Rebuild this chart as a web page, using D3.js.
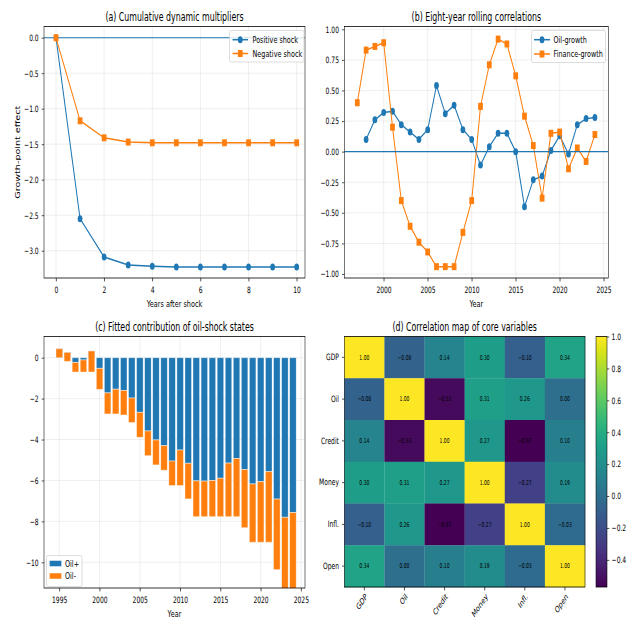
<!DOCTYPE html>
<html><head><meta charset="utf-8">
<script src="https://cdn.jsdelivr.net/npm/d3@7"></script>
<style>
body{margin:0;background:#fff;overflow:hidden}
svg{display:block}
text{font-family:"DejaVu Sans",sans-serif;fill:#000}
</style></head>
<body><div id="chart"></div>
<script>
// ---------------- data ----------------
const horizons = [0,1,2,3,4,5,6,7,8,9,10];
const positiveShock = [0,-2.55,-3.09,-3.20,-3.22,-3.23,-3.23,-3.23,-3.23,-3.23,-3.23];
const negativeShock = [0,-1.17,-1.41,-1.47,-1.48,-1.48,-1.48,-1.48,-1.48,-1.48,-1.48];

const oilYears = [1998,1999,2000,2001,2002,2003,2004,2005,2006,2007,2008,2009,2010,2011,2012,2013,2014,2015,2016,2017,2018,2019,2020,2021,2022,2023,2024];
const oilGrowth = [0.10,0.26,0.32,0.33,0.22,0.16,0.10,0.18,0.54,0.31,0.38,0.18,0.10,-0.11,0.04,0.15,0.15,0.00,-0.45,-0.23,-0.20,0.01,0.13,-0.02,0.22,0.27,0.28];
const finYears = [1997,1998,1999,2000,2001,2002,2003,2004,2005,2006,2007,2008,2009,2010,2011,2012,2013,2014,2015,2016,2017,2018,2019,2020,2021,2022,2023,2024];
const financeGrowth = [0.40,0.83,0.86,0.89,0.20,-0.40,-0.61,-0.74,-0.82,-0.94,-0.94,-0.94,-0.66,-0.40,0.37,0.71,0.92,0.88,0.62,0.29,0.05,-0.38,0.15,0.16,-0.14,0.03,-0.08,0.14];

const barYears = [1995,1996,1997,1998,1999,2000,2001,2002,2003,2004,2005,2006,2007,2008,2009,2010,2011,2012,2013,2014,2015,2016,2017,2018,2019,2020,2021,2022,2023,2024];
const oilPlus = [0.44,0.26,-0.23,-0.11,0.33,-0.52,-1.72,-1.54,-1.60,-1.97,-2.67,-3.58,-4.02,-4.30,-5.05,-4.51,-5.16,-6.02,-6.03,-6.00,-5.89,-5.15,-4.93,-5.47,-6.17,-6.06,-5.57,-6.91,-7.80,-7.57];
const oilMinus = [-0.44,-0.44,-0.47,-0.59,-1.03,-1.03,-1.03,-1.21,-1.20,-1.20,-1.22,-1.21,-1.22,-1.20,-1.20,-1.74,-1.74,-1.75,-1.74,-1.77,-1.88,-2.62,-2.84,-2.84,-2.85,-2.96,-3.45,-3.45,-3.90,-4.10];

const corrVars = ["GDP","Oil","Credit","Money","Infl.","Open"];
const corrRows = [
  [1.00,-0.08,0.14,0.30,-0.10,0.34],
  [-0.08,1.00,-0.53,0.31,0.26,0.00],
  [0.14,-0.53,1.00,0.27,-0.57,0.10],
  [0.30,0.31,0.27,1.00,-0.27,0.19],
  [-0.10,0.26,-0.57,-0.27,1.00,-0.03],
  [0.34,0.00,0.10,0.19,-0.03,1.00]
];

const aTicksX = [0,2,4,6,8,10];
const aTicksY = [0,-0.5,-1,-1.5,-2,-2.5,-3];
const bTicksX = [2000,2005,2010,2015,2020,2025];
const bTicksY = [1,0.75,0.5,0.25,0,-0.25,-0.5,-0.75,-1];
const cTicksX = [1995,2000,2005,2010,2015,2020,2025];
const cTicksY = [0,-2,-4,-6,-8,-10];
const cbTicks = [-0.4,-0.2,0,0.2,0.4,0.6,0.8,1.0];

// ---------------- setup ----------------
const S = 0.68, W = 631, H = 624, VW = W / S;
const X = px => px / S;
const C0 = "#1f77b4", C1 = "#ff7f0e";
const FT = 8.8, FL = 9.6, FTI = 11.55, FLEG = 9.5;

const svg = d3.select("#chart").append("svg")
  .attr("width", W).attr("height", H)
  .attr("viewBox", `0 0 ${VW} ${H}`)
  .attr("preserveAspectRatio", "none");
const defs = svg.append("defs");

function panel(o) {
  const g = svg.append("g");
  const l = X(o.left), r = X(o.right);
  const grid = g.append("g").attr("stroke", "#b0b0b0").attr("stroke-opacity", 0.3).attr("stroke-width", 0.8);
  o.xticks.forEach(t => grid.append("line").attr("x1", o.xs(t)).attr("x2", o.xs(t)).attr("y1", o.top).attr("y2", o.bottom));
  o.yticks.forEach(t => grid.append("line").attr("x1", l).attr("x2", r).attr("y1", o.ys(t)).attr("y2", o.ys(t)));
  const id = "clip" + Math.random().toString(36).slice(2);
  defs.append("clipPath").attr("id", id).append("rect").attr("x", l).attr("y", o.top).attr("width", r - l).attr("height", o.bottom - o.top);
  const plot = g.append("g").attr("clip-path", `url(#${id})`);
  const ax = g.append("g");
  const xa = ax.append("g").attr("transform", `translate(0,${o.bottom})`)
    .call(d3.axisBottom(o.xs).tickValues(o.xticks).tickFormat(o.xfmt).tickSize(3.4).tickPadding(5.5));
  const ya = ax.append("g").attr("transform", `translate(${l},0)`)
    .call(d3.axisLeft(o.ys).tickValues(o.yticks).tickFormat(o.yfmt).tickSize(3.4).tickPadding(4.5));
  [xa, ya].forEach(a => {
    a.select(".domain").remove();
    a.selectAll("line").attr("stroke", "#000").attr("stroke-width", 0.8);
    a.selectAll("text").attr("font-size", FT).attr("font-family", "DejaVu Sans").attr("fill", "#000");
  });
  g.append("rect").attr("x", l).attr("y", o.top).attr("width", r - l).attr("height", o.bottom - o.top)
    .attr("fill", "none").attr("stroke", "#000").attr("stroke-width", 0.8);
  g.append("text").attr("x", (l + r) / 2).attr("y", o.top - 5.5).attr("text-anchor", "middle").attr("font-size", FTI).text(o.title);
  if (o.xlabel) g.append("text").attr("x", (l + r) / 2).attr("y", o.xlabelY).attr("text-anchor", "middle").attr("font-size", FL).text(o.xlabel);
  if (o.ylabel) g.append("text").attr("transform", `translate(${X(o.ylabelX)},${(o.top + o.bottom) / 2}) rotate(-90)`)
    .attr("text-anchor", "middle").attr("font-size", FL).text(o.ylabel);
  return {g, plot, l, r};
}

function marker(sel, type, x, y, color) {
  if (type === "o") sel.append("circle").attr("cx", x).attr("cy", y).attr("r", 3.5).attr("fill", color);
  else sel.append("rect").attr("x", x - 3.5).attr("y", y - 3.5).attr("width", 7.0).attr("height", 7.0).attr("fill", color);
}

function series(plot, xs, ys, xv, yv, color, type) {
  const line = d3.line().x((d, i) => xs(xv[i])).y(d => ys(d));
  plot.append("path").datum(yv).attr("d", line).attr("fill", "none").attr("stroke", color).attr("stroke-width", 1.5);
  yv.forEach((v, i) => marker(plot, type, xs(xv[i]), ys(v), color));
}

function lineLegend(box, rows) {
  const g = svg.append("g");
  g.append("rect").attr("x", X(box.x0)).attr("y", box.y0).attr("width", X(box.x1) - X(box.x0)).attr("height", box.y1 - box.y0)
    .attr("rx", 2).attr("fill", "#fff").attr("fill-opacity", 0.8).attr("stroke", "#cccccc").attr("stroke-width", 0.8);
  rows.forEach((rw, i) => {
    const y = box.rowY[i];
    g.append("line").attr("x1", X(box.h0)).attr("x2", X(box.h1)).attr("y1", y).attr("y2", y).attr("stroke", rw.color).attr("stroke-width", 1.5);
    marker(g, rw.type, (X(box.h0) + X(box.h1)) / 2, y, rw.color);
    g.append("text").attr("x", X(box.tx)).attr("y", y).attr("dy", "0.35em").attr("font-size", FLEG).text(rw.label);
  });
}

// ---------------- (a) ----------------
{
  const xs = d3.scaleLinear().domain([0, 10]).range([X(56), X(296.7)]);
  const ys = d3.scaleLinear().domain([0, -3]).range([37.7, 250.7]);
  const p = panel({left: 44, right: 305, top: 26.5, bottom: 278, xs, ys, xticks: aTicksX, yticks: aTicksY,
    xfmt: d3.format("d"), yfmt: d3.format(".1f"), title: "(a) Cumulative dynamic multipliers",
    xlabel: "Years after shock", xlabelY: 307, ylabel: "Growth-point effect", ylabelX: 20});
  p.plot.append("line").attr("x1", p.l).attr("x2", p.r).attr("y1", ys(0)).attr("y2", ys(0)).attr("stroke", C0).attr("stroke-width", 1.1);
  series(p.plot, xs, ys, horizons, positiveShock, C0, "o");
  series(p.plot, xs, ys, horizons, negativeShock, C1, "s");
  lineLegend({x0: 229.5, x1: 304, y0: 30.5, y1: 62, rowY: [39.7, 53.5], h0: 232.5, h1: 248, tx: 252.5},
    [{label: "Positive shock", color: C0, type: "o"}, {label: "Negative shock", color: C1, type: "s"}]);
}

// ---------------- (b) ----------------
{
  const xs = d3.scaleLinear().domain([2000, 2025]).range([X(383.7), X(603.7)]);
  const ys = d3.scaleLinear().domain([1, -1]).range([29.3, 274]);
  const p = panel({left: 344.3, right: 608.3, top: 26.5, bottom: 278, xs, ys, xticks: bTicksX, yticks: bTicksY,
    xfmt: d3.format("d"), yfmt: d3.format(".2f"), title: "(b) Eight-year rolling correlations",
    xlabel: "Year", xlabelY: 307});
  series(p.plot, xs, ys, oilYears, oilGrowth, C0, "o");
  series(p.plot, xs, ys, finYears, financeGrowth, C1, "s");
  p.plot.append("line").attr("x1", p.l).attr("x2", p.r).attr("y1", ys(0)).attr("y2", ys(0)).attr("stroke", C0).attr("stroke-width", 1.1);
  lineLegend({x0: 531.5, x1: 605.5, y0: 30.5, y1: 62.5, rowY: [39.7, 54.0], h0: 534, h1: 550, tx: 553.5},
    [{label: "Oil-growth", color: C0, type: "o"}, {label: "Finance-growth", color: C1, type: "s"}]);
}

// ---------------- (c) ----------------
{
  const xs = d3.scaleLinear().domain([1995, 2025]).range([X(59.3), X(301)]);
  const ys = d3.scaleLinear().domain([0, -10]).range([357.7, 562.3]);
  const p = panel({left: 44, right: 305, top: 336.5, bottom: 588, xs, ys, xticks: cTicksX, yticks: cTicksY,
    xfmt: d3.format("d"), yfmt: d3.format("d"), title: "(c) Fitted contribution of oil-shock states",
    xlabel: "Year", xlabelY: 617});
  const bw = xs(0.8) - xs(0);
  barYears.forEach((yr, i) => {
    const y0 = ys(0), y1 = ys(oilPlus[i]);
    p.plot.append("rect").attr("x", xs(yr) - bw / 2).attr("width", bw)
      .attr("y", Math.min(y0, y1)).attr("height", Math.abs(y1 - y0))
      .attr("fill", C0).attr("stroke", "#fff").attr("stroke-opacity", 0.5).attr("stroke-width", 0.9);
  });
  barYears.forEach((yr, i) => {
    const y0 = ys(oilPlus[i]), y1 = ys(oilPlus[i] + oilMinus[i]);
    p.plot.append("rect").attr("x", xs(yr) - bw / 2).attr("width", bw)
      .attr("y", Math.min(y0, y1)).attr("height", Math.abs(y1 - y0))
      .attr("fill", C1).attr("stroke", "#fff").attr("stroke-opacity", 0.5).attr("stroke-width", 0.9);
  });
  const lg = svg.append("g");
  lg.append("rect").attr("x", X(46.5)).attr("y", 555.5).attr("width", X(82) - X(46.5)).attr("height", 31)
    .attr("rx", 2).attr("fill", "#fff").attr("fill-opacity", 0.8).attr("stroke", "#cccccc").attr("stroke-width", 0.8);
  [["Oil+", C0, 563.5], ["Oil-", C1, 576]].forEach(([lab, col, y]) => {
    lg.append("rect").attr("x", X(49.5)).attr("y", y - 3).attr("width", X(61.5) - X(49.5)).attr("height", 6)
      .attr("fill", col).attr("stroke", "#fff").attr("stroke-opacity", 0.5).attr("stroke-width", 0.9);
    lg.append("text").attr("x", X(65)).attr("y", y).attr("dy", "0.35em").attr("font-size", FLEG).text(lab);
  });
}

// ---------------- (d) ----------------
{
  const l = X(344.3), r = X(585), top = 336.5, bottom = 587;
  const xb = d3.scaleBand().domain(corrVars).range([l, r]);
  const yb = d3.scaleBand().domain(corrVars).range([top, bottom]);
  const flat = corrRows.flat();
  const vmin = d3.min(flat), vmax = d3.max(flat);
  const col = v => d3.interpolateViridis((v - vmin) / (vmax - vmin));
  const g = svg.append("g");
  corrRows.forEach((row, i) => row.forEach((v, j) => {
    g.append("rect").attr("x", xb(corrVars[j])).attr("y", yb(corrVars[i]))
      .attr("width", xb.bandwidth() + 0.3).attr("height", yb.bandwidth() + 0.3).attr("fill", col(v));
    g.append("text").attr("x", xb(corrVars[j]) + xb.bandwidth() / 2).attr("y", yb(corrVars[i]) + yb.bandwidth() / 2)
      .attr("dy", "0.35em").attr("text-anchor", "middle").attr("font-size", 6.6).text(d3.format(".2f")(v));
  }));
  g.append("rect").attr("x", l).attr("y", top).attr("width", r - l).attr("height", bottom - top)
    .attr("fill", "none").attr("stroke", "#000").attr("stroke-width", 0.8);
  g.append("text").attr("x", (l + r) / 2).attr("y", top - 5.5).attr("text-anchor", "middle").attr("font-size", FTI)
    .text("(d) Correlation map of core variables");
  corrVars.forEach(v => {
    const cy = yb(v) + yb.bandwidth() / 2;
    g.append("line").attr("x1", l - 3.4).attr("x2", l).attr("y1", cy).attr("y2", cy).attr("stroke", "#000").attr("stroke-width", 0.8);
    g.append("text").attr("x", l - 7.9).attr("y", cy).attr("dy", "0.32em").attr("text-anchor", "end").attr("font-size", FT).text(v);
    const cx = xb(v) + xb.bandwidth() / 2;
    g.append("line").attr("x1", cx).attr("x2", cx).attr("y1", bottom).attr("y2", bottom + 3.4).attr("stroke", "#000").attr("stroke-width", 0.8);
    g.append("text").attr("transform", `translate(${cx + 3},${bottom + 8}) rotate(-45)`)
      .attr("text-anchor", "end").attr("dy", "0.35em").attr("font-size", FT).text(v);
  });
  const cl = X(596), cr = X(607);
  const cs = d3.scaleLinear().domain([vmin, vmax]).range([bottom, top]);
  const gid = "cbgrad";
  const grad = defs.append("linearGradient").attr("id", gid).attr("x1", 0).attr("y1", 1).attr("x2", 0).attr("y2", 0);
  d3.range(0, 1.0001, 0.05).forEach(t => grad.append("stop").attr("offset", t).attr("stop-color", d3.interpolateViridis(t)));
  g.append("rect").attr("x", cl).attr("y", top).attr("width", cr - cl).attr("height", bottom - top).attr("fill", `url(#${gid})`)
    .attr("stroke", "#000").attr("stroke-width", 0.8);
  const ca = g.append("g").attr("transform", `translate(${cr},0)`)
    .call(d3.axisRight(cs).tickValues(cbTicks).tickFormat(d3.format(".1f")).tickSize(3.4).tickPadding(3.4));
  ca.select(".domain").remove();
  ca.selectAll("line").attr("stroke", "#000").attr("stroke-width", 0.8);
  ca.selectAll("text").attr("font-size", FT).attr("font-family", "DejaVu Sans").attr("fill", "#000");
}
</script></body></html>
